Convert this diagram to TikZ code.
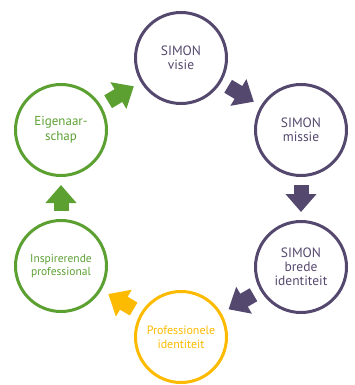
\documentclass[tikz,border=0pt]{standalone}
\usepackage{fontspec}
\setmainfont{PT Sans}
\usetikzlibrary{arrows.meta}
\definecolor{simonpurple}{RGB}{85,72,110}
\definecolor{simongreen}{RGB}{92,160,50}
\definecolor{simonyellow}{RGB}{252,186,0}

\begin{document}
\begin{tikzpicture}[x=1pt, y=-1pt,
    ring/.style={draw=#1, text=#1, circle, line width=3pt, minimum size=91pt,
      inner sep=0pt, align=center, font=\fontsize{13.5}{14}\selectfont},
    blockarrow/.style={draw=#1, line width=15pt, shorten <=8pt, shorten >=8pt,
      -{Triangle[length=18pt,width=30pt]}}]
    \useasboundingbox (0,0) rectangle (354,385);

    % the six circles
    \node[ring=simonpurple] (visie) at (181,58) {SIMON\\visie};
    \node[ring=simonpurple] (missie) at (301,130) {SIMON\\missie};
    \node[ring=simonpurple] (brede) at (301,267) {SIMON\\brede\\identiteit};
    \node[ring=simonyellow, font=\fontsize{12}{14}\selectfont] (profid) at (181,337) {Professionele\\identiteit};
    \node[ring=simongreen, font=\fontsize{11.5}{13}\selectfont] (insprof) at (61,266) {Inspirerende\\professional};
    \node[ring=simongreen, font=\fontsize{13}{15}\selectfont] (eigen) at (61,130) {Eigenaar-\\schap};

    % the cycle
    \draw[blockarrow=simonpurple] (visie) -- (missie);
    \draw[blockarrow=simonpurple] (missie) -- (brede);
    \draw[blockarrow=simonpurple] (brede) -- (profid);
    \draw[blockarrow=simonyellow] (profid) -- (insprof);
    \draw[blockarrow=simongreen] (insprof) -- (eigen);
    \draw[blockarrow=simongreen] (eigen) -- (visie);
  \end{tikzpicture}
\end{document}
